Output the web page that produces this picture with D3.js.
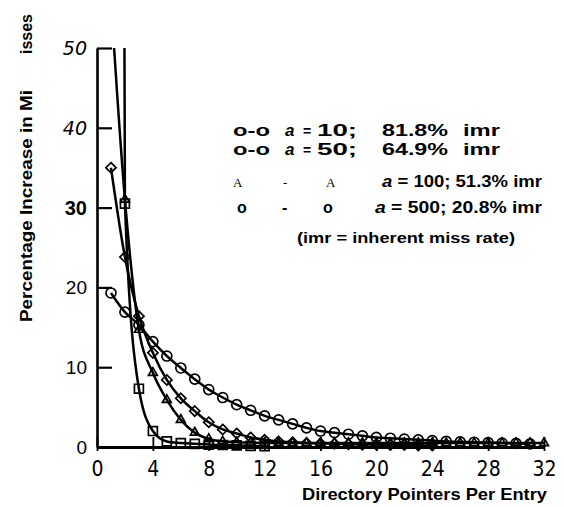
<!DOCTYPE html>
<html>
<head>
<meta charset="utf-8">
<script src="https://cdn.jsdelivr.net/npm/d3@7"></script>
<style>
  body { margin: 0; background: #fff; }
  svg { display: block; }
  text { fill: #000; }
</style>
</head>
<body>
<svg id="chart" width="564" height="507"></svg>
<script>
// values (x = directory pointers per entry)
var xTicks = [0, 4, 8, 12, 16, 20, 24, 28, 32];
var yTicks = [0, 10, 20, 30, 40, 50];
var alphas = [10, 50, 100, 500];
var imrRates = ["81.8", "64.9", "51.3", "20.8"];

// a = 10 (squares), first point is off the top of the chart
var squareVals = [600, 30.5, 7.3, 2.0, 0.7, 0.5, 0.4, 0.3, 0.25, 0.2, 0.15, 0.1];
// a = 50 (diamonds)
var diamondVals = [35.0, 23.8, 16.4, 11.8, 8.4, 6.1, 4.5, 3.1, 2.2, 1.7, 1.2, 0.9, 0.7,
                   0.6, 0.5, 0.45, 0.4, 0.35, 0.3, 0.3, 0.25, 0.25, 0.2, 0.2];
// a = 100 (triangles)
var triangleVals = [56, 31, 14.7, 9.3, 5.9, 3.4, 1.8, 1.0, 0.7, 0.6, 0.55, 0.5, 0.5, 0.5,
                    0.5, 0.5, 0.5, 0.5, 0.5, 0.5, 0.5, 0.5, 0.5, 0.5, 0.5, 0.5, 0.5,
                    0.5, 0.5, 0.5, 0.5, 0.5];
// a = 500 (circles)
var circleVals = [19.3, 16.9, 15.3, 13.2, 11.4, 9.9, 8.5, 7.2, 6.2, 5.3, 4.6, 3.9, 3.4,
                  2.9, 2.4, 2.0, 1.8, 1.6, 1.4, 1.2, 1.1, 1.0, 0.9, 0.8, 0.7, 0.65,
                  0.6, 0.55, 0.5, 0.45, 0.4];

var svg = d3.select("#chart");
var x = d3.scaleLinear().domain([0, 32]).range([97, 544]);
var y = d3.scaleLinear().domain([0, 50]).range([447, 48]);

svg.append("clipPath").attr("id", "plotclip")
  .append("rect")
  .attr("x", x(0)).attr("y", y(50))
  .attr("width", x(32) - x(0) + 6).attr("height", y(0) - y(50) + 6);

var series = [
  { vals: squareVals, sym: d3.symbolSquare, size: 80 },
  { vals: diamondVals, sym: d3.symbolDiamond2, size: 66 },
  { vals: triangleVals, sym: d3.symbolTriangle2, size: 56 },
  { vals: circleVals, sym: d3.symbolCircle, size: 78 }
];

var line = d3.line()
  .x(function(d, i) { return x(i + 1); })
  .y(function(d) { return y(d); })
  .curve(d3.curveMonotoneX);

var plot = svg.append("g").attr("clip-path", "url(#plotclip)");

series.forEach(function(s) {
  plot.append("path")
    .attr("d", line(s.vals))
    .attr("fill", "none")
    .attr("stroke", "#000")
    .attr("stroke-width", 2.5);

  var pts = s.vals.map(function(v, i) { return { x: i + 1, v: v }; })
    .filter(function(p) { return p.v < 49; });
  plot.selectAll(null).data(pts).enter().append("path")
    .attr("transform", function(p) { return "translate(" + x(p.x) + "," + y(p.v) + ")"; })
    .attr("d", d3.symbol().type(s.sym).size(s.size))
    .attr("fill", "none")
    .attr("stroke", "#000")
    .attr("stroke-width", 1.7);
});

// y axis, ticks pointing into the plot
var yAxis = svg.append("g")
  .attr("transform", "translate(" + x(0) + ",0)")
  .call(d3.axisRight(y).tickValues(yTicks).tickSize(15).tickSizeOuter(0).tickFormat(""));
yAxis.select(".domain").attr("stroke-width", 2.6);
yAxis.selectAll(".tick line").attr("stroke-width", 2.2);

var yLabelStyle = function(v) {
  if (v >= 40) return { style: "italic", weight: 300, family: "'DejaVu Sans', sans-serif", size: 19 };
  if (v === 30) return { style: "normal", weight: 700, family: "'Liberation Sans', Arial, sans-serif", size: 20 };
  return { style: "normal", weight: 400, family: "'Liberation Sans', Arial, sans-serif", size: 19 };
};
svg.selectAll(".ylab").data(yTicks).enter().append("text")
  .attr("class", "ylab")
  .attr("x", x(0) - 10)
  .attr("y", function(v) { return y(v) + 7; })
  .attr("text-anchor", "end")
  .each(function(v) {
    var st = yLabelStyle(v);
    d3.select(this)
      .style("font-family", st.family)
      .style("font-style", st.style)
      .style("font-weight", st.weight)
      .style("font-size", st.size + "px");
  })
  .text(function(v) { return v; });

// x axis
var xAxis = svg.append("g")
  .attr("transform", "translate(0," + y(0) + ")")
  .call(d3.axisBottom(x).tickValues(xTicks).tickSize(4).tickSizeOuter(0).tickPadding(10));
xAxis.select(".domain").attr("stroke-width", 2.8);
xAxis.selectAll(".tick line").attr("y1", -10).attr("stroke-width", 1.8);
xAxis.selectAll(".tick text")
  .style("font-family", "'Liberation Sans Narrow', 'DejaVu Sans Condensed', sans-serif")
  .style("font-stretch", "condensed")
  .style("font-size", "21px")
  .attr("fill", "#000");

// axis titles
svg.append("text")
  .attr("x", 547).attr("y", 500)
  .attr("text-anchor", "end")
  .attr("textLength", 245)
  .attr("lengthAdjust", "spacingAndGlyphs")
  .style("font-family", "'Liberation Sans', Arial, sans-serif")
  .style("font-weight", 700)
  .style("font-size", "17px")
  .text("Directory Pointers Per Entry");

svg.append("text")
  .attr("transform", "translate(32,322) rotate(-90)")
  .attr("textLength", 232)
  .attr("lengthAdjust", "spacingAndGlyphs")
  .style("font-family", "'Liberation Sans', Arial, sans-serif")
  .style("font-weight", 700)
  .style("font-size", "16px")
  .text("Percentage Increase in Mi");
svg.append("text")
  .attr("transform", "translate(32,54) rotate(-90)")
  .attr("textLength", 40)
  .attr("lengthAdjust", "spacingAndGlyphs")
  .style("font-family", "'Liberation Sans', Arial, sans-serif")
  .style("font-weight", 700)
  .style("font-size", "16px")
  .text("isses");

// legend
var legendFont = "'Liberation Sans', Arial, sans-serif";
var seg = function(txt, x0, x1, yy, opts) {
  opts = opts || {};
  var t = svg.append("text")
    .attr("x", x0).attr("y", yy)
    .style("font-family", opts.family || legendFont)
    .style("font-weight", opts.weight || 700)
    .style("font-style", opts.italic ? "italic" : "normal")
    .style("font-size", (opts.size || 17) + "px")
    .text(txt);
  if (x1) t.attr("textLength", x1 - x0).attr("lengthAdjust", "spacingAndGlyphs");
  return t;
};

// rows 1 and 2 are widely spaced
[0, 1].forEach(function(i) {
  var yy = [136, 155][i];
  seg("o-o", 233, 270, yy);
  seg("a", 285, null, yy, { italic: true });
  seg("=", 303, null, yy, { size: 14 });
  seg(alphas[i] + ";", 317, 357, yy);
  seg(imrRates[i] + "%", 382, 448, yy);
  seg("imr", 463, 500, yy);
});

// row 3 (triangles)
seg("A", 233, null, 187, { family: "'Liberation Serif', serif", weight: 400, size: 13 });
seg("-", 283, null, 187, { family: "'Liberation Serif', serif", weight: 400, size: 13 });
seg("A", 326, null, 187, { family: "'Liberation Serif', serif", weight: 400, size: 13 });
var r3 = seg("", 382, 542, 187, { size: 16 });
r3.append("tspan").style("font-style", "italic").text("a");
r3.append("tspan").text(" = " + alphas[2] + "; " + imrRates[2] + "% imr");

// row 4 (circles)
seg("o", 237, null, 213, { size: 16 });
seg("-", 282, null, 213, { size: 16 });
seg("o", 323, null, 213, { size: 16 });
var r4 = seg("", 375, 542, 213, { size: 16 });
r4.append("tspan").style("font-style", "italic").text("a");
r4.append("tspan").text(" = " + alphas[3] + "; " + imrRates[3] + "% imr");

seg("(imr = inherent miss rate)", 297, 515, 243, { size: 15 });
</script>
</body>
</html>
